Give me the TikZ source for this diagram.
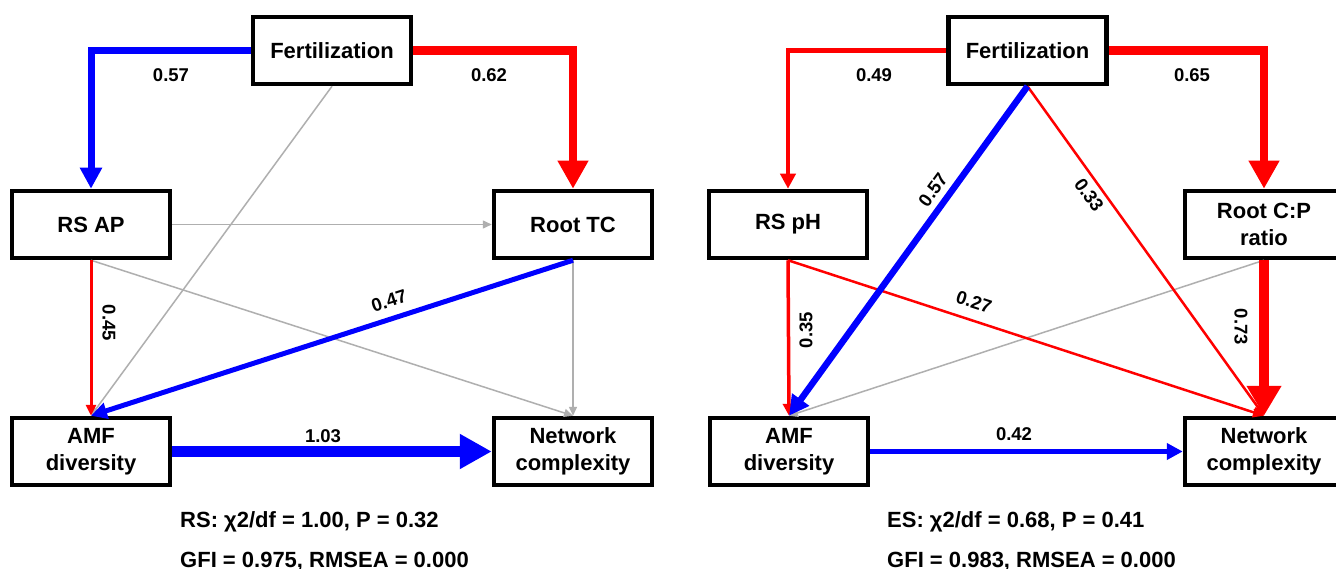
\documentclass[tikz,border=0pt]{standalone}
\usepackage{fontspec}
\setmainfont{Liberation Sans}
\usetikzlibrary{arrows.meta}
\definecolor{pblue}{RGB}{0,0,255}
\definecolor{pred}{RGB}{255,0,0}
\definecolor{pgray}{RGB}{175,175,175}
\begin{document}
\begin{tikzpicture}[x=1pt,y=-1pt,
  box/.style={draw=black, line width=4.5pt, fill=white, minimum width=158pt, minimum height=67pt, align=center, inner sep=0pt, font=\fontsize{22}{27}\selectfont\bfseries},
  lab/.style={font=\fontsize{18.5}{20}\selectfont\bfseries, inner sep=0pt},
  fitline/.style={font=\fontsize{22}{26}\selectfont\bfseries, anchor=base west, inner sep=0pt},
  grayarr/.style={pgray, line width=1.5pt, -{Triangle[length=9pt,width=8pt]}},
  line join=miter
]
\useasboundingbox (0,0) rectangle (1336,569);
\fill[white] (0,0) rectangle (1336,569);

% ---------- left panel ----------
\node[box] (f1) at (332,50.5) {Fertilization};
\node[box] (rsap) at (91,224.5) {RS AP};
\node[box] (rtc) at (573,224.5) {Root TC};
\node[box] (amf1) at (91,451.5) {AMF\\diversity};
\node[box] (nc1) at (573,451.5) {Network\\complexity};

\draw[pblue, line width=7pt, -{Triangle[length=21pt,width=21pt]}] (f1.west) -| (rsap.north);
\draw[pred, line width=8.5pt, -{Triangle[length=28pt,width=29pt]}] (f1.east) -| (rtc.north);
\draw[grayarr] (f1.south) -- (amf1.north);
\draw[grayarr] (rsap.east) -- (rtc.west);
\draw[grayarr] (rsap.south) -- (nc1.north);
\draw[grayarr] (rtc.south) -- (nc1.north);
\draw[pred, line width=3pt, -{Triangle[length=11pt,width=10pt]}] (rsap.south) -- (amf1.north);
\draw[pblue, line width=5pt, -{Triangle[length=16pt,width=16pt]}] (rtc.south) -- (amf1.north);
\draw[pblue, line width=11pt, -{Triangle[length=32pt,width=33pt]}] (amf1.east) -- (nc1.west);

\node[lab] (l057a) at (171,75) {0.57};
\node[lab] (l062) at (489,75) {0.62};
\node[lab, rotate=-90] (l045) at (109,323) {0.45};
\node[lab, rotate=18] (l047) at (389,301) {0.47};
\node[lab] (l103) at (323,436) {1.03};

\node[fitline] (fit1a) at (180,527) {RS: χ2/df = 1.00, P = 0.32};
\node[fitline] (fit1b) at (180,567) {GFI = 0.975, RMSEA = 0.000};

% ---------- right panel ----------
\node[box] (f2) at (1027.5,50.5) {Fertilization};
\node[box] (rsph) at (788,224.5) {RS pH};
\node[box] (rcp) at (1264,224.5) {Root C:P\\ratio};
\node[box] (amf2) at (789,451.5) {AMF\\diversity};
\node[box] (nc2) at (1264,451.5) {Network\\complexity};

\draw[pred, line width=4.5pt, -{Triangle[length=15pt,width=15pt]}] (f2.west) -| (rsph.north);
\draw[pred, line width=8.5pt, -{Triangle[length=28pt,width=29pt]}] (f2.east) -| (rcp.north);
\draw[grayarr] (rcp.south) -- (amf2.north);
\draw[pred, line width=3.5pt, -{Triangle[length=12pt,width=12pt]}] (rsph.south) -- (amf2.north);
\draw[pred, line width=2.5pt, -{Triangle[length=11pt,width=10pt]}] (rsph.south) -- (nc2.north);
\draw[pred, line width=2.5pt, -{Triangle[length=11pt,width=10pt]}] (f2.south) -- (nc2.north);
\draw[pblue, line width=6.5pt, -{Triangle[length=20pt,width=20pt]}] (f2.south) -- (amf2.north);
\draw[pred, line width=10.5pt, -{Triangle[length=30pt,width=33pt]}] (rcp.south) -- (nc2.north);
\draw[pblue, line width=4.5pt, -{Triangle[length=16pt,width=16pt]}] (amf2.east) -- (nc2.west);

\node[lab] (l049) at (874,75) {0.49};
\node[lab] (l065) at (1192,75) {0.65};
\node[lab, rotate=54] (l057b) at (933,190) {0.57};
\node[lab, rotate=-54.5] (l033) at (1089,195) {0.33};
\node[lab, rotate=90] (l035) at (806,330) {0.35};
\node[lab, rotate=-18] (l027) at (974,302) {0.27};
\node[lab, rotate=-90] (l073) at (1241,327) {0.73};
\node[lab] (l042) at (1014,434) {0.42};

\node[fitline] (fit2a) at (887,527) {ES: χ2/df = 0.68, P = 0.41};
\node[fitline] (fit2b) at (887,567) {GFI = 0.983, RMSEA = 0.000};
\end{tikzpicture}
\end{document}
